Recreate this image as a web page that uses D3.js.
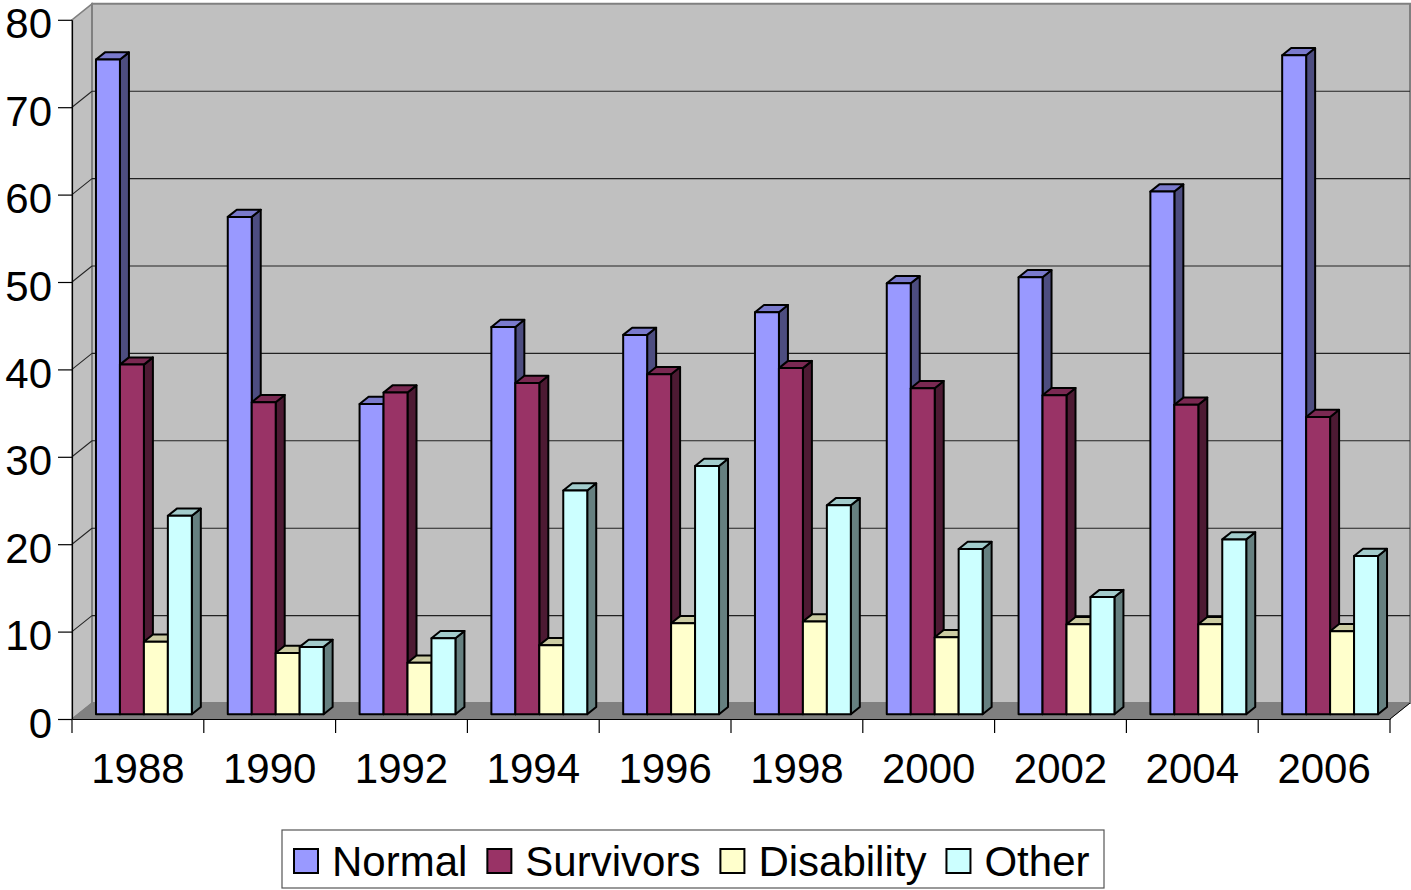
<!DOCTYPE html>
<html>
<head>
<meta charset="utf-8">
<script src="https://cdn.jsdelivr.net/npm/d3@7"></script>
<style>
  html, body { margin: 0; padding: 0; background: #ffffff; }
  svg { display: block; font-family: "Liberation Sans", Arial, sans-serif; }
</style>
</head>
<body>
<svg id="chart" width="1411" height="890"></svg>
<script>
// Pension recipients by type, every second year
const years = ["1988", "1990", "1992", "1994", "1996", "1998", "2000", "2002", "2004", "2006"];
const seriesNames = ["Normal", "Survivors", "Disability", "Other"];
const normal     = [74.9, 56.9, 35.5, 44.3, 43.4, 46.0, 49.3, 50.0, 59.8, 75.4];
const survivors  = [40.0, 35.7, 36.8, 37.9, 38.9, 39.6, 37.3, 36.5, 35.4, 34.0];
const disability = [8.3, 7.0, 5.9, 7.9, 10.4, 10.6, 8.8, 10.3, 10.3, 9.5];
const other      = [22.7, 7.7, 8.7, 25.6, 28.4, 23.9, 18.9, 13.4, 20.0, 18.1];
const yTicks = [0, 10, 20, 30, 40, 50, 60, 70, 80];

const seriesValues = [normal, survivors, disability, other];
// face colours: front, top, side
const palette = [
  { front: "#9999FF", top: "#7A7ACC", side: "#4D4D80" },
  { front: "#993366", top: "#7A2952", side: "#4D1A33" },
  { front: "#FFFFCC", top: "#CCCCA3", side: "#808066" },
  { front: "#CCFFFF", top: "#A3CCCC", side: "#668080" }
];

const svg = d3.select("#chart");

// front plane of the plot
const left = 72, right = 1390;
const y = d3.scaleLinear().domain([0, 80]).range([719, 19.8]);
const x0 = d3.scaleBand().domain(years).range([left, right]);
const x1 = d3.scaleBand().domain(seriesNames).range([0, x0.bandwidth()]).paddingOuter(0.75);

// oblique depth of the box
const DX = 20, DY = -16;
const barFront = 0.3, barDepth = 0.45;

const pts = a => a.map(p => p.join(",")).join(" ");

// side wall
svg.append("polygon")
  .attr("points", pts([[left, y(0)], [left, y(80)], [left + DX, y(80) + DY], [left + DX, y(0) + DY]]))
  .attr("fill", "#C0C0C0").attr("stroke", "#808080").attr("stroke-width", 1.5);

// back wall
svg.append("polygon")
  .attr("points", pts([[left + DX, y(0) + DY], [left + DX, y(80) + DY], [right + DX, y(80) + DY], [right + DX, y(0) + DY]]))
  .attr("fill", "#C0C0C0").attr("stroke", "#808080").attr("stroke-width", 2);

// gridlines on back wall and side wall
const grid = svg.append("g").attr("stroke", "#222").attr("stroke-width", 1.1).attr("fill", "none");
yTicks.filter(t => t > 0 && t < 80).forEach(t => {
  grid.append("line")
    .attr("x1", left + DX).attr("x2", right + DX)
    .attr("y1", y(t) + DY).attr("y2", y(t) + DY);
  grid.append("line")
    .attr("x1", left).attr("x2", left + DX)
    .attr("y1", y(t)).attr("y2", y(t) + DY);
});

// floor
svg.append("polygon")
  .attr("points", pts([[left, y(0)], [right, y(0)], [right + DX, y(0) + DY], [left + DX, y(0) + DY]]))
  .attr("fill", "#808080").attr("stroke", "#808080").attr("stroke-width", 1);

// bars, drawn left to right so each one covers its neighbour's side face
const bars = svg.append("g")
  .attr("stroke", "#000").attr("stroke-width", 2).attr("stroke-linejoin", "round");
years.forEach((yr, i) => {
  seriesNames.forEach((s, j) => {
    const v = seriesValues[j][i];
    const c = palette[j];
    const fx = x0(yr) + x1(s) + DX * barFront;
    const w = x1.bandwidth();
    const yb = y(0) + DY * barFront;
    const yt = y(v) + DY * barFront;
    const dx = DX * barDepth, dy = DY * barDepth;
    const g = bars.append("g");
    g.append("polygon").attr("fill", c.side)
      .attr("points", pts([[fx + w, yb], [fx + w, yt], [fx + w + dx, yt + dy], [fx + w + dx, yb + dy]]));
    g.append("polygon").attr("fill", c.top)
      .attr("points", pts([[fx, yt], [fx + w, yt], [fx + w + dx, yt + dy], [fx + dx, yt + dy]]));
    g.append("rect").attr("fill", c.front)
      .attr("x", fx).attr("y", yt).attr("width", w).attr("height", yb - yt);
  });
});

// value axis
const yAxis = svg.append("g")
  .attr("transform", `translate(${left},0)`)
  .call(d3.axisLeft(y).tickValues(yTicks).tickSize(14).tickSizeOuter(0).tickPadding(6));
yAxis.select(".domain").attr("stroke", "#000").attr("stroke-width", 1.2);
yAxis.selectAll(".tick line").attr("stroke", "#000").attr("stroke-width", 1.2);
yAxis.selectAll("text").attr("font-size", 42).attr("fill", "#000").attr("dy", "0.43em")
  .attr("font-family", "Liberation Sans, Arial, sans-serif");

// category axis
const xAxis = svg.append("g")
  .attr("transform", `translate(0,${y(0)})`)
  .call(d3.axisBottom(x0).tickSize(0).tickSizeOuter(0).tickPadding(34));
xAxis.select(".domain").attr("stroke", "#000").attr("stroke-width", 1.2);
xAxis.selectAll("text").attr("font-size", 42).attr("fill", "#000")
  .attr("font-family", "Liberation Sans, Arial, sans-serif");
const bounds = years.map(yr => x0(yr)).concat([right]);
xAxis.selectAll(".bound").data(bounds).join("line")
  .attr("class", "bound")
  .attr("x1", d => d).attr("x2", d => d)
  .attr("y1", 0).attr("y2", 14)
  .attr("stroke", "#000").attr("stroke-width", 1.2);

// right edge of the floor
svg.append("line")
  .attr("x1", right).attr("y1", y(0)).attr("x2", right + DX).attr("y2", y(0) + DY)
  .attr("stroke", "#000").attr("stroke-width", 1);

// legend
const legend = svg.append("g");
legend.append("rect")
  .attr("x", 282).attr("y", 830).attr("width", 822).attr("height", 58)
  .attr("fill", "#fff").attr("stroke", "#555").attr("stroke-width", 1.2);
let lx = 294;
seriesNames.forEach((s, j) => {
  legend.append("rect")
    .attr("x", lx).attr("y", 849).attr("width", 24).attr("height", 24)
    .attr("fill", palette[j].front).attr("stroke", "#000").attr("stroke-width", 2);
  const t = legend.append("text")
    .attr("x", lx + 38).attr("y", 876)
    .attr("font-size", 42).attr("fill", "#000")
    .text(s);
  lx += 38 + t.node().getComputedTextLength() + 20;
});
</script>
</body>
</html>
